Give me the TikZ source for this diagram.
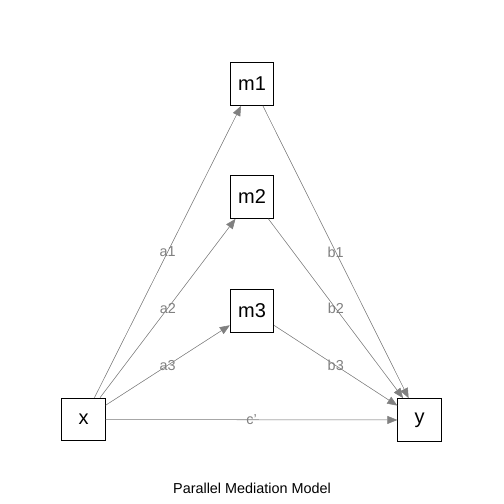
\documentclass[tikz,border=0pt]{standalone}
\usepackage{fontspec}
\setmainfont{Liberation Sans}
\usetikzlibrary{arrows.meta}
\begin{document}
\begin{tikzpicture}[x=0.75pt, y=-0.75pt, >={Triangle[length=7.5pt, width=6pt]},
		var/.style={draw, line width=0.75pt, minimum width=32.5pt, minimum height=32pt, inner sep=0pt, font=\fontsize{15}{17}\selectfont},
		path/.style={->, draw=gray, fill=gray, line width=0.4pt},
		coef/.style={text=gray, font=\fontsize{10.8}{12}\selectfont}]
	\useasboundingbox (0,0) rectangle (504,504);
	
	\node[var] (m1) at (252,84) {m1};
	\node[var] (m2) at (252,197) {m2};
	\node[var] (m3) at (252,311) {m3};
	\node[var] (x) at (83.5,419.5) {x};
	\node[var] (y) at (419.5,420) {y};
	
	\draw[path] (x) -- (m1) node[coef, midway] {a1};
	\draw[path] (x) -- (m2) node[coef, midway] {a2};
	\draw[path] (x) -- (m3) node[coef, midway] {a3};
	\draw[path] (m1) -- (y) node[coef, midway] {b1};
	\draw[path] (m2) -- (y) node[coef, midway] {b2};
	\draw[path] (m3) -- (y) node[coef, midway] {b3};
	\draw[path] (x) -- (y) node[coef, midway] {c'};
	
	\node[font=\fontsize{10.8}{12}\selectfont] (title) at (252,488) {Parallel Mediation Model};
\end{tikzpicture}
\end{document}
